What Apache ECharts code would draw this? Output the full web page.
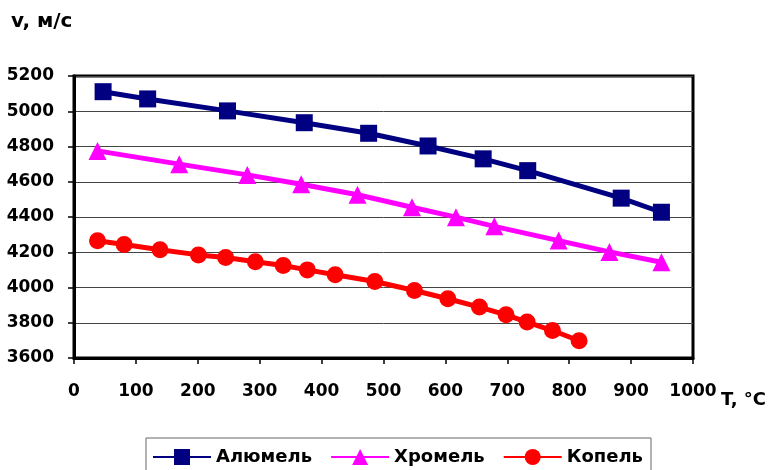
<!DOCTYPE html>
<html><head><meta charset="utf-8">
<script src="https://cdn.jsdelivr.net/npm/echarts@6/dist/echarts.min.js"></script>
<style>html,body{margin:0;padding:0;background:#fff}#c{width:773px;height:470px}</style>
</head><body><div id="c"></div>
<script>
const seriesNames = ['Алюмель', 'Хромель', 'Копель'];
const alumelT = [47, 119, 248, 372, 476, 572, 661, 733, 884, 949];
const alumelV = [5111, 5070, 5002, 4935, 4875, 4803, 4730, 4663, 4507, 4427];
const chromelT = [38, 170, 280, 367, 458, 546, 617, 679, 783, 865, 949];
const chromelV = [4775, 4700, 4639, 4586, 4526, 4455, 4399, 4347, 4266, 4202, 4143];
const kopelT = [38, 81, 139, 201, 245, 293, 338, 377, 422, 486, 550, 604, 655, 698, 732, 773, 816];
const kopelV = [4265, 4244, 4214, 4185, 4170, 4146, 4125, 4100, 4072, 4034, 3983, 3936, 3889, 3845, 3804, 3756, 3698];
const yTitle = 'v, м/с';
const xTitle = 'T, °C';

const pair = (t, v) => t.map((x, i) => [x, v[i]]);
const font = '"DejaVu Sans", sans-serif';
const chart = echarts.init(document.getElementById('c'));
chart.setOption({
  animation: false,
  grid: { left: 74, right: 80, top: 76, bottom: 112, show: true, borderColor: '#000', borderWidth: 3 },
  xAxis: {
    type: 'value', min: 0, max: 1000, interval: 100,
    axisLine: { show: true, lineStyle: { color: '#000', width: 3 } },
    axisTick: { show: true, length: 6, lineStyle: { color: '#000', width: 1.5 } },
    axisLabel: { color: '#000', fontFamily: font, fontWeight: 'bold', fontSize: 17, margin: 25, formatter: v => String(v) },
    splitLine: { show: false }
  },
  yAxis: {
    type: 'value', min: 3600, max: 5200, interval: 200,
    axisLine: { show: true, lineStyle: { color: '#000', width: 3 } },
    axisTick: { show: true, length: 6, lineStyle: { color: '#000', width: 1.5 } },
    axisLabel: { color: '#000', fontFamily: font, fontWeight: 'bold', fontSize: 17, margin: 20, formatter: v => String(v) },
    splitLine: { show: true, lineStyle: { color: '#444', width: 1 } }
  },
  legend: {
    left: 146, top: 438, itemWidth: 58, itemHeight: 20, itemGap: 18,
    padding: [10, 8, 14, 6], borderColor: '#666', borderWidth: 1,
    textStyle: { color: '#000', fontFamily: font, fontWeight: 'bold', fontSize: 18 },
    data: seriesNames
  },
  graphic: [
    { type: 'text', x: 11, y: 22, style: { text: yTitle, fill: '#000', font: 'bold 20px ' + font, verticalAlign: 'middle' } },
    { type: 'text', x: 721, y: 400, style: { text: xTitle, fill: '#000', font: 'bold 18px ' + font, verticalAlign: 'middle' } }
  ],
  series: [
    { name: seriesNames[0], type: 'line', data: pair(alumelT, alumelV), symbol: 'rect', symbolSize: 17,
      itemStyle: { color: '#000080' }, lineStyle: { color: '#000080', width: 5 } },
    { name: seriesNames[1], type: 'line', data: pair(chromelT, chromelV), symbol: 'triangle', symbolSize: 18,
      itemStyle: { color: '#FF00FF' }, lineStyle: { color: '#FF00FF', width: 5 } },
    { name: seriesNames[2], type: 'line', data: pair(kopelT, kopelV), symbol: 'circle', symbolSize: 17,
      itemStyle: { color: '#FF0000' }, lineStyle: { color: '#FF0000', width: 5 } }
  ]
});
</script></body></html>
